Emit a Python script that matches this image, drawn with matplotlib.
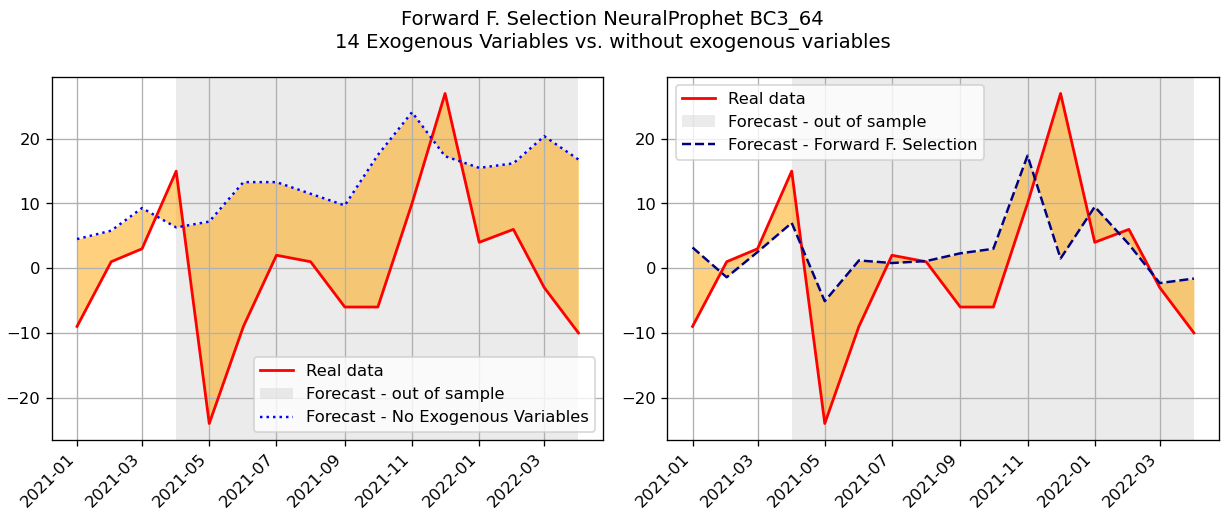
import pandas as pd
import numpy as np
import matplotlib.pyplot as plt

# Monthly values
dates = pd.date_range("2021-01-01", "2022-04-01", freq="MS")
real_data = [-9, 1, 3, 15, -24, -9, 2, 1, -6, -6, 10, 27, 4, 6, -3, -10]
forecast_no_exog = [4.5, 5.8, 9.3, 6.3, 7.2, 13.3, 13.3, 11.5, 9.7, 17.5, 24.1, 17.3, 15.5, 16.2, 20.4, 16.8]
forecast_ffs = [3.2, -1.4, 2.5, 7.0, -5.1, 1.2, 0.8, 1.1, 2.3, 3.0, 17.4, 1.5, 9.5, 3.7, -2.3, -1.6]

oos_start = pd.Timestamp("2021-04-01")
oos_end = pd.Timestamp("2022-04-01")

fig, axes = plt.subplots(1, 2, figsize=(10.4, 4.372), dpi=117.8)
fig.suptitle("Forward F. Selection NeuralProphet BC3_64\n14 Exogenous Variables vs. without exogenous variables")

panels = [
    (axes[0], forecast_no_exog, "Forecast - No Exogenous Variables", "blue", ":", "lower right"),
    (axes[1], forecast_ffs, "Forecast - Forward F. Selection", "navy", "--", "upper left"),
]

for ax, forecast, label, color, style, loc in panels:
    ax.plot(dates, real_data, color="red", linewidth=1.7, label="Real data")
    ax.axvspan(oos_start, oos_end, color="#d3d3d3", alpha=0.45, linewidth=0,
               label="Forecast - out of sample")
    ax.plot(dates, forecast, color=color, linestyle=style, linewidth=1.5, label=label)
    ax.fill_between(dates, real_data, forecast, color="orange", alpha=0.5, linewidth=0)
    ax.grid(True)
    ax.legend(loc=loc)
    plt.setp(ax.get_xticklabels(), rotation=45, ha="right")

plt.subplots_adjust(left=0.0424, right=0.995, top=0.8505, bottom=0.1456, wspace=0.116)
plt.savefig("out.png")
